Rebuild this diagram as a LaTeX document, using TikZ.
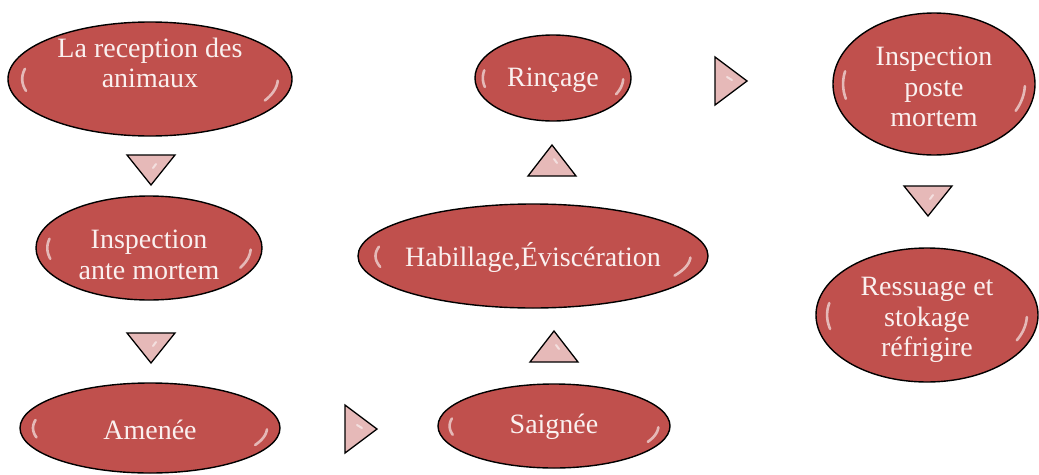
\documentclass[tikz,border=0pt]{standalone}
\usepackage{fontspec}
\setmainfont{Liberation Serif}
\usetikzlibrary{calc,shapes.geometric}
\definecolor{ellred}{HTML}{C0504D}
\definecolor{tripink}{HTML}{E6B9B8}
\definecolor{txtw}{HTML}{FAF0EF}
\tikzset{
  ellnode/.style={ellipse, draw=black, line width=1.4pt, fill=ellred, inner sep=0pt},
  txt/.style={text=txtw, font=\fontsize{28}{30.5}\selectfont, align=center, inner sep=0pt},
  tri/.style={draw=black, line width=1.3pt, fill=tripink, line join=miter},
  hl/.style={white, opacity=.6, line width=2.6pt, line cap=round},
  thl/.style={white, opacity=.55, line width=2pt, line cap=round},
}
% glossy highlights: centre x, centre y, rx, ry
\newcommand\glossy[4]{%
  \draw[hl] plot[domain=166:192, samples=12] ({#1+0.9*#3*cos(\x)},{#2+0.86*#4*sin(\x)});
  \draw[hl] plot[domain=2:26, samples=12] ({#1+0.9*#3*cos(\x)},{#2+0.86*#4*sin(\x)});
}
\newcommand\tridown[1]{\draw[tri] ($(#1)+(-24,-15)$) -- ($(#1)+(24,-15)$) -- ($(#1)+(0,15)$) -- cycle;
  \draw[thl] ($(#1)+(2,-2)$) -- ($(#1)+(5,-6)$);}
\newcommand\triup[1]{\draw[tri] ($(#1)+(-24,15)$) -- ($(#1)+(24,15)$) -- ($(#1)+(0,-16)$) -- cycle;
  \draw[thl] ($(#1)+(2,-2)$) -- ($(#1)+(5,2)$);}
\newcommand\triright[1]{\draw[tri] ($(#1)+(-16,-24)$) -- ($(#1)+(-16,24)$) -- ($(#1)+(16,0)$) -- cycle;
  \draw[thl] ($(#1)+(-4,-4)$) -- ($(#1)+(1,-1)$);}
\begin{document}
\begin{tikzpicture}[x=1pt,y=-1pt]
\useasboundingbox (0,0) rectangle (1039,474);
% ellipses
\node[ellnode, minimum width=284pt, minimum height=114pt] (rec) at (150,79) {};
\node[ellnode, minimum width=226pt, minimum height=104pt] (ante) at (149,248) {};
\node[ellnode, minimum width=260pt, minimum height=90pt] (amen) at (150,428) {};
\node[ellnode, minimum width=232pt, minimum height=84pt] (saig) at (554,426) {};
\node[ellnode, minimum width=350pt, minimum height=104pt] (habi) at (533,256) {};
\node[ellnode, minimum width=156pt, minimum height=86pt] (rinc) at (553,78) {};
\node[ellnode, minimum width=202pt, minimum height=142pt] (ipm) at (934,84) {};
\node[ellnode, minimum width=222pt, minimum height=134pt] (ress) at (927,315) {};
\glossy{150}{79}{142}{57}
\glossy{149}{248}{113}{52}
\glossy{150}{428}{130}{45}
\glossy{554}{426}{116}{42}
\glossy{533}{256}{175}{52}
\glossy{553}{78}{78}{43}
\glossy{934}{84}{101}{71}
\glossy{927}{315}{111}{67}
% texts
\node[txt] (trec) at (150,63) {La reception des\\animaux};
\node[txt] (tante) at (149,255) {Inspection\\ante mortem};
\node[txt] (tamen) at (150,430) {Amenée};
\node[txt] (tsaig) at (554,427) {Saignée};
\node[txt] (thabi) at (533,257) {Habillage,Éviscération};
\node[txt] (trinc) at (553,80) {Rinçage};
\node[txt] (tipm) at (934,87) {Inspection\\poste\\mortem};
\node[txt] (tress) at (927,320) {Ressuage et\\stokage\\réfrigire};
% arrow triangles
\coordinate (a1) at (151,170);
\coordinate (a2) at (151,348);
\coordinate (a3) at (361,429);
\coordinate (a4) at (554,347);
\coordinate (a5) at (552,161);
\coordinate (a6) at (731,81);
\coordinate (a7) at (928,201);
\tridown{a1}\tridown{a2}\triright{a3}\triup{a4}\triup{a5}\triright{a6}\tridown{a7}
\end{tikzpicture}
\end{document}
